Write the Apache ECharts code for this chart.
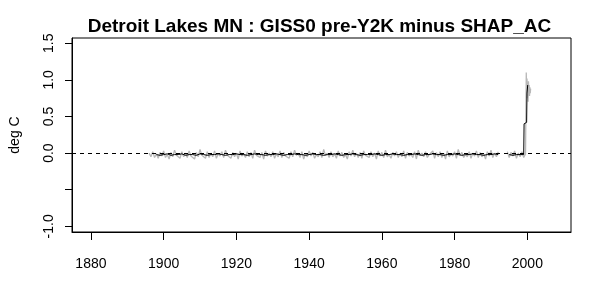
<!DOCTYPE html>
<html>
<head>
<meta charset="utf-8">
<script src="https://cdn.jsdelivr.net/npm/echarts@6/dist/echarts.min.js"></script>
<style>
html,body{margin:0;padding:0;background:#fff;}
#chart{width:589px;height:287px;}
</style>
</head>
<body>
<div id="chart"></div>
<script>
// ---- data ----
const titleText = 'Detroit Lakes MN : GISS0 pre-Y2K minus SHAP_AC';
const yAxisTitle = 'deg C';
const xTickValues = [1880, 1900, 1920, 1940, 1960, 1980, 2000];
const yTickValues = [-1.0, -0.5, 0.0, 0.5, 1.0, 1.5];
const yLabelValues = [-1.0, 0.0, 0.5, 1.0, 1.5];

// gray (raw differences), half-year steps
const grayStart1 = 1896.0;
const grayStep = 0.5;
const grayVals1 = [
  0.00,-0.05,0.02,-0.06,-0.01,-0.07,0.01,-0.04,0.03,-0.06,
  -0.02,-0.08,0.01,-0.05,0.04,-0.03,-0.01,-0.07,0.02,-0.05,
  0.00,-0.06,0.03,-0.04,-0.02,-0.08,0.01,-0.05,0.05,-0.03,
  -0.01,-0.07,0.02,-0.06,0.00,-0.05,0.03,-0.07,-0.01,-0.04,
  0.02,-0.06,0.04,-0.03,-0.02,-0.07,0.01,-0.05,0.00,-0.08,
  0.03,-0.04,-0.01,-0.06,0.02,-0.05,0.01,-0.07,0.04,-0.03,
  -0.02,-0.06,0.01,-0.08,0.03,-0.04,0.00,-0.05,0.02,-0.07,
  -0.01,-0.05,0.03,-0.06,0.01,-0.04,-0.02,-0.07,0.02,-0.05,
  0.04,-0.03,0.00,-0.06,0.02,-0.08,-0.01,-0.05,0.03,-0.04,
  0.01,-0.07,-0.02,-0.05,0.02,-0.06,0.05,-0.03,0.00,-0.06,
  0.02,-0.05,-0.01,-0.07,0.03,-0.04,0.01,-0.06,-0.02,-0.08,
  0.02,-0.04,0.04,-0.05,0.00,-0.06,0.01,-0.07,0.03,-0.03,
  -0.01,-0.06,0.02,-0.05,0.00,-0.08,0.03,-0.04,0.01,-0.06,
  0.04,-0.05,-0.02,-0.07,0.01,-0.04,0.02,-0.06,0.00,-0.05,
  0.03,-0.07,0.01,-0.04,-0.01,-0.06,0.02,-0.08,0.04,-0.03,
  0.00,-0.05,0.02,-0.06,-0.02,-0.04,0.03,-0.07,0.01,-0.05,
  0.02,-0.06,0.00,-0.08,0.03,-0.05,-0.01,-0.04,0.02,-0.07,
  0.05,-0.03,0.01,-0.06,-0.02,-0.05,0.02,-0.07,0.00,-0.04,
  0.03,-0.06,0.01,-0.05,-0.01,-0.08,0.02,-0.04,0.04,-0.06,
  0.00,-0.05,0.02
];
const grayStart2 = 1994.5;
const grayVals2 = [0.02,-0.06,0.01,-0.04,0.03,-0.07,0.00,-0.05,0.02,-0.06,-0.01];
const spikeYears = [1999.7,1999.8,1999.9,2000.0,2000.1,2000.2,2000.3,2000.4,2000.5,2000.6,2000.7,2000.8,2000.9];
const spikeVals  = [1.10,0.80,1.02,0.75,0.95,0.70,0.98,0.85,0.93,0.78,0.90,0.82,0.88];

// black (smoothed), annual
const blackStart1 = 1898;
const blackVals1 = [
  -0.02,-0.03,-0.02,-0.01,-0.03,-0.02,-0.02,-0.01,-0.03,-0.02,
  -0.02,-0.03,-0.01,-0.02,-0.03,-0.02,-0.02,-0.01,-0.02,-0.03,
  -0.02,-0.02,-0.01,-0.02,-0.02,-0.03,-0.02,-0.01,-0.02,-0.02,
  -0.03,-0.02,-0.02,-0.01,-0.02,-0.03,-0.02,-0.02,-0.01,-0.02,
  -0.02,-0.03,-0.02,-0.01,-0.02,-0.02,-0.03,-0.02,-0.02,-0.01,
  -0.02,-0.03,-0.02,-0.02,-0.01,-0.02,-0.03,-0.02,-0.02,-0.02,
  -0.01,-0.02,-0.03,-0.02,-0.02,-0.01,-0.02,-0.02,-0.03,-0.02,
  -0.02,-0.01,-0.02,-0.03,-0.02,-0.02,-0.01,-0.02,-0.02,-0.03,
  -0.02,-0.02,-0.01,-0.02,-0.03,-0.02,-0.02,-0.01,-0.02,-0.02,
  -0.03,-0.02,-0.02,-0.01,-0.02
];
const blackYears2 = [1995.0,1996.0,1997.0,1998.0,1999.0,1999.1,1999.8,1999.9,2000.1];
const blackVals2  = [-0.02,-0.03,-0.02,-0.02,-0.02,0.40,0.42,0.82,0.93];

// ---- build series data ----
const gray1 = grayVals1.map((v, i) => [grayStart1 + i * grayStep, v]);
const gray2 = grayVals2.map((v, i) => [grayStart2 + i * grayStep, v])
  .concat(spikeYears.map((y, i) => [y, spikeVals[i]]));
const black1 = blackVals1.map((v, i) => [blackStart1 + i, v]);
const black2 = blackYears2.map((y, i) => [y, blackVals2[i]]);

const FONT = '"Liberation Sans", Arial, sans-serif';
const chart = echarts.init(document.getElementById('chart'), null, {renderer: 'canvas'});

const lineBase = {type: 'line', showSymbol: false, symbol: 'none', animation: false, silent: true};

chart.setOption({
  animation: false,
  backgroundColor: '#ffffff',
  title: {
    text: titleText,
    left: 314.5,
    top: 12,
    textAlign: 'center',
    textStyle: {fontFamily: FONT, fontWeight: 'bold', fontSize: 19, color: '#000'}
  },
  grid: {left: 72, right: 18, top: 38, bottom: 55, show: true, borderColor: '#000', borderWidth: 1, backgroundColor: 'transparent'},
  xAxis: {
    type: 'value',
    min: 1874.8, max: 2012.0,
    axisLine: {show: true, onZero: false, lineStyle: {color: '#000', width: 1}},
    axisTick: {show: true, length: 8, lineStyle: {color: '#000'}, customValues: xTickValues},
    axisLabel: {show: true, margin: 25, fontSize: 14, fontFamily: FONT, color: '#000', customValues: xTickValues,
                formatter: v => String(v)},
    splitLine: {show: false}
  },
  yAxis: {
    type: 'value',
    min: -1.077, max: 1.572,
    name: yAxisTitle,
    nameLocation: 'middle',
    nameGap: 50,
    nameRotate: 90,
    nameTextStyle: {fontFamily: FONT, fontSize: 14, color: '#000'},
    axisLine: {show: true, onZero: false, lineStyle: {color: '#000', width: 1}},
    axisTick: {show: true, length: 7, lineStyle: {color: '#000'}, customValues: yTickValues},
    axisLabel: {show: true, margin: 16, rotate: 90, fontSize: 14, fontFamily: FONT, color: '#000', customValues: yLabelValues,
                formatter: v => v.toFixed(1)},
    splitLine: {show: false}
  },
  series: [
    Object.assign({}, lineBase, {data: gray1, lineStyle: {color: '#b8b8b8', width: 1.3}, z: 2}),
    Object.assign({}, lineBase, {data: gray2, lineStyle: {color: '#b8b8b8', width: 1.3}, z: 2}),
    Object.assign({}, lineBase, {data: black1, lineStyle: {color: '#000', width: 1}, z: 3}),
    Object.assign({}, lineBase, {data: black2, lineStyle: {color: '#000', width: 1}, z: 3,
      markLine: {silent: true, symbol: ['none', 'none'], label: {show: false}, animation: false,
        lineStyle: {color: '#000', type: [4, 4], width: 1}, data: [{yAxis: 0}]}})
  ]
});
</script>
</body>
</html>
